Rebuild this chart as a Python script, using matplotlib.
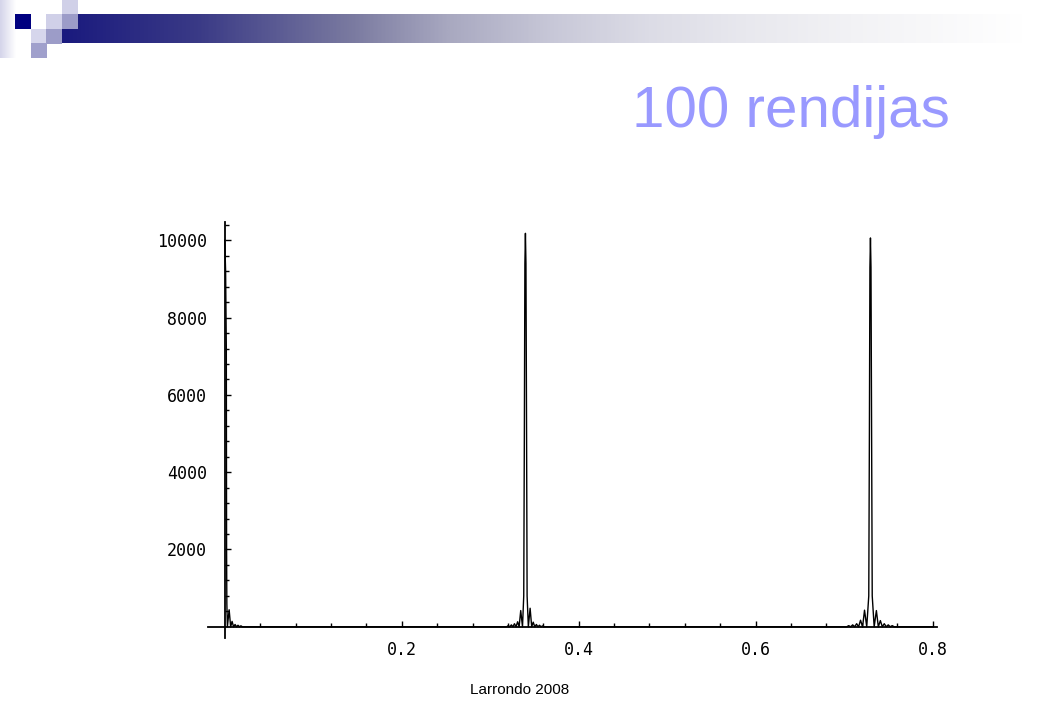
import numpy as np
import matplotlib.pyplot as plt
from matplotlib.colors import LinearSegmentedColormap
from matplotlib.patches import Rectangle
from matplotlib.ticker import FixedLocator

# Intensity pattern of 100 slits (three principal maxima)
peak0_x = [0.0, 0.0010, 0.0018, 0.0021, 0.0024, 0.0030, 0.0050, 0.0067, 0.0083,
           0.0100, 0.0117, 0.0133, 0.0150, 0.0167, 0.0183, 0.0200]
peak0_y = [10000, 9200, 7200, 2000, 600, 0, 440, 0, 140, 0, 60, 0, 40, 0, 25, 0]

peak1_x = [0.3186, 0.3204, 0.3222, 0.3239, 0.3257, 0.3274, 0.3292, 0.3310, 0.3327,
           0.3345, 0.3365, 0.3379, 0.3386, 0.3392, 0.3398, 0.3404, 0.3411, 0.3417,
           0.3431, 0.3451, 0.3469, 0.3486, 0.3504, 0.3522, 0.3539, 0.3557, 0.3575,
           0.3592, 0.3610]
peak1_y = [0, 30, 0, 50, 0, 80, 0, 130, 0,
           420, 0, 800, 5000, 9400, 10180, 9400, 5000, 800,
           0, 480, 0, 120, 0, 60, 0, 40, 0,
           25, 0]

peak2_x = [0.7029, 0.7051, 0.7074, 0.7096, 0.7118, 0.7141, 0.7163, 0.7185, 0.7208,
           0.7230, 0.7255, 0.7278, 0.7285, 0.7291, 0.7297, 0.7303, 0.7310, 0.7317,
           0.7339, 0.7364, 0.7386, 0.7409, 0.7431, 0.7453, 0.7476, 0.7498, 0.7521,
           0.7543, 0.7565]
peak2_y = [0, 30, 0, 50, 0, 80, 0, 170, 0,
           430, 0, 800, 5000, 9300, 10060, 9300, 5000, 800,
           0, 420, 0, 160, 0, 80, 0, 50, 0,
           30, 0]

x_ticks = [0.2, 0.4, 0.6, 0.8]
x_labels = ["0.2", "0.4", "0.6", "0.8"]
y_ticks = [2000, 4000, 6000, 8000, 10000]
y_labels = ["2000", "4000", "6000", "8000", "10000"]

title = "100 rendijas"
footer = "Larrondo 2008"

W, H = 1040, 720
fig = plt.figure(figsize=(W / 100, H / 100), dpi=100)

# slide decoration, drawn in pixel coordinates
bg = fig.add_axes([0, 0, 1, 1])
bg.set_xlim(0, W)
bg.set_ylim(H, 0)
bg.axis("off")

bar_cmap = LinearSegmentedColormap.from_list(
    "bar",
    [(0.0, "#1a1a7e"), (0.14, "#3a3a86"), (0.30, "#7a7aa0"), (0.40, "#a8a8c0"),
     (0.51, "#c8c8d8"), (0.61, "#dcdce6"), (0.71, "#e8e8ee"), (0.82, "#f2f2f5"),
     (1.0, "#ffffff")])
bg.imshow(np.linspace(0, 1, 512)[None, :], cmap=bar_cmap, aspect="auto",
          extent=(62, 1025, 43, 14), interpolation="bilinear")

strip_cmap = LinearSegmentedColormap.from_list("strip", ["#d4d4ea", "#ffffff"])
bg.imshow(np.linspace(0, 1, 64)[None, :], cmap=strip_cmap, aspect="auto",
          extent=(0, 16, 58, 0), interpolation="bilinear")

squares = [
    (15, 14, "#000080"),
    (62, 0, "#d0d0e8"),
    (62, 14, "#9c9cc8"),
    (46, 14, "#d0d0e8"),
    (31, 29, "#d6d6ec"),
    (46, 29, "#9c9cc8"),
    (31, 43, "#a0a0cc"),
]
for sx, sy, c in squares:
    bg.add_patch(Rectangle((sx, sy), 15.5, 14.5, facecolor=c, edgecolor="none"))

bg.text(950, 127, title, color="#9999ff", fontsize=42, ha="right",
        va="baseline", family="Liberation Sans")
bg.text(520, 690, footer, color="black", fontsize=11, ha="center",
        va="center", family="Liberation Sans")

# plot area: axes cross at the origin, Mathematica style
ax = fig.add_axes([208 / W, 1 - 638 / H, 729 / W, 416 / H])
ax.patch.set_alpha(0)

curve_x = peak0_x + peak1_x + peak2_x + [0.80]
curve_y = peak0_y + peak1_y + peak2_y + [0]
ax.plot(curve_x, curve_y, color="black", linewidth=1.0)

ax.set_xlim(-0.0189, 0.8049)
ax.set_ylim(-290, 10473)

for side in ["top", "right"]:
    ax.spines[side].set_visible(False)
ax.spines["left"].set_position(("data", 0))
ax.spines["bottom"].set_position(("data", 0))
ax.spines["left"].set_linewidth(1.3)
ax.spines["bottom"].set_linewidth(1.3)

ax.xaxis.set_major_locator(FixedLocator(x_ticks))
ax.set_xticklabels(x_labels)
ax.xaxis.set_minor_locator(FixedLocator(np.arange(0.04, 0.81, 0.04)))
ax.yaxis.set_major_locator(FixedLocator(y_ticks))
ax.set_yticklabels(y_labels)
ax.yaxis.set_minor_locator(FixedLocator(np.arange(400, 10401, 400)))

ax.tick_params(axis="both", which="both", direction="in", width=1)
ax.tick_params(axis="both", which="major", length=4.5)
ax.tick_params(axis="both", which="minor", length=2.8)
ax.tick_params(axis="x", which="major", pad=10)
ax.tick_params(axis="y", which="major", pad=13)
for lab in ax.get_xticklabels() + ax.get_yticklabels():
    lab.set_family("DejaVu Sans Mono")
    lab.set_fontsize(12)

fig.savefig("out.png", dpi=100)
